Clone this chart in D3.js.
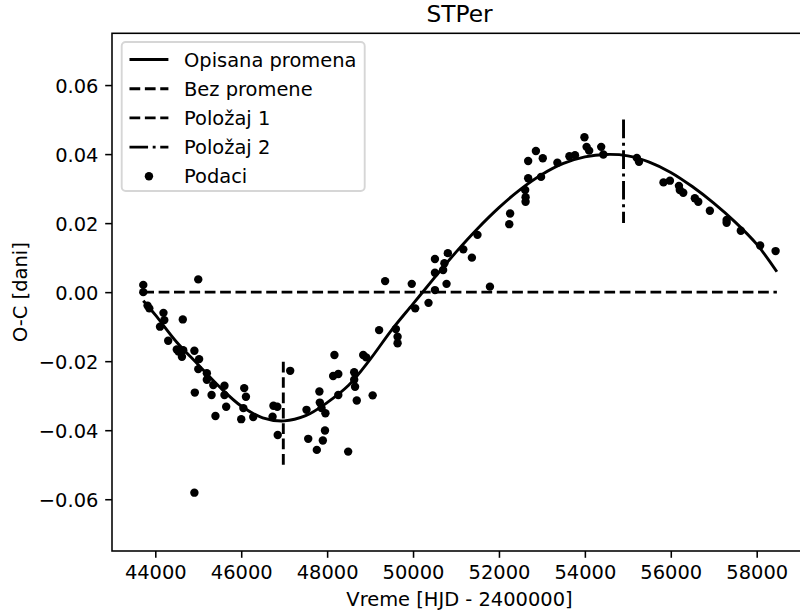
<!DOCTYPE html>
<html>
<head>
<meta charset="utf-8">
<script src="https://cdn.jsdelivr.net/npm/d3@7"></script>
<style>
    body { margin: 0; background: #fff; }
    svg { display: block; font-family: "DejaVu Sans", sans-serif; }
</style>
</head>
<body>
<svg id="chart" width="800" height="614"></svg>
<script>
'use strict';

const chartTitle = 'STPer';
const xLabel = 'Vreme [HJD - 2400000]';
const yLabel = 'O-C [dani]';

const xTicks = [44000, 46000, 48000, 50000, 52000, 54000, 56000, 58000];
const yTicks = [-0.06, -0.04, -0.02, 0.00, 0.02, 0.04, 0.06];

const legendLabels = ['Opisana promena', 'Bez promene', 'Položaj 1', 'Položaj 2', 'Podaci'];

// observed minima
const obsTimes = [
    43720, 43720, 45000, 43820, 43860, 44190, 44210, 44110, 44640, 44300,
    44500, 44540, 44620, 44650, 44910, 45020, 45000, 45200, 45200, 45350,
    45610, 45310, 44920, 45610, 46070, 46110, 45650, 46050, 46750, 46840,
    47140, 47520, 45400, 46000, 46280, 46730, 46850, 47560, 44910, 48170,
    48840, 48910, 48140, 48260, 48630, 48630, 48650, 47820, 48260, 47830,
    47870, 47960, 48690, 49060, 49640, 47950, 47900, 47760, 48490, 49210,
    49600, 49640, 50050, 50360, 49350, 49970, 50510, 50780, 50510, 50700,
    50730, 50510, 50810, 51170, 51370, 51500, 51790, 52240, 52260, 52610,
    52620, 52620, 52680, 52680, 52860, 53020, 52980, 53360, 53640, 53770,
    53990, 54040, 54100, 54380, 54430, 55210, 55260, 55830, 55980, 56190,
    56210, 56290, 56560, 56640, 56910, 57300, 57300, 57630, 58080, 58440
];
const obsOC = [
    0.0021, 0.0000, 0.0037, -0.0039, -0.0047, -0.0060, -0.0081, -0.0100, -0.0079, -0.0141,
    -0.0166, -0.0172, -0.0187, -0.0168, -0.0170, -0.0194, -0.0223, -0.0235, -0.0254, -0.0269,
    -0.0271, -0.0298, -0.0291, -0.0298, -0.0278, -0.0303, -0.0332, -0.0336, -0.0329, -0.0332,
    -0.0228, -0.0341, -0.0359, -0.0368, -0.0362, -0.0361, -0.0414, -0.0425, -0.0581, -0.0182,
    -0.0182, -0.0189, -0.0243, -0.0237, -0.0232, -0.0254, -0.0274, -0.0288, -0.0298, -0.0320,
    -0.0336, -0.0351, -0.0314, -0.0299, -0.0148, -0.0401, -0.0430, -0.0457, -0.0462, -0.0110,
    -0.0107, -0.0129, -0.0047, -0.0031, 0.0032, 0.0024, 0.0006, 0.0024, 0.0056, 0.0064,
    0.0084, 0.0096, 0.0113, 0.0124, 0.0100, 0.0166, 0.0016, 0.0197, 0.0228, 0.0296,
    0.0275, 0.0262, 0.0330, 0.0380, 0.0409, 0.0388, 0.0334, 0.0375, 0.0394, 0.0397,
    0.0449, 0.0421, 0.0410, 0.0421, 0.0399, 0.0389, 0.0378, 0.0318, 0.0323, 0.0308,
    0.0296, 0.0288, 0.0272, 0.0262, 0.0236, 0.0209, 0.0201, 0.0178, 0.0135, 0.0119
];

// fitted curve
const fitTimes = [
    43720, 44000, 44500, 45000, 45500, 46000, 46500, 47000, 47500, 48000,
    48500, 49000, 49500, 50000, 50500, 51000, 51500, 52000, 52500, 53000,
    53500, 54000, 54500, 55000, 55500, 56000, 56500, 57000, 57500, 58000,
    58470
];
const fitOC = [
    -0.0025, -0.0066, -0.0145, -0.0210, -0.0275, -0.0330, -0.0364, -0.0373, -0.0358, -0.0320,
    -0.0270, -0.0195, -0.0110, -0.0034, 0.0042, 0.0116, 0.0184, 0.0245, 0.0298, 0.0341,
    0.0373, 0.0392, 0.0399, 0.0395, 0.0377, 0.0347, 0.0306, 0.0258, 0.0203, 0.0139,
    0.0059
];

const noChangeTimes = [43720, 58470];
const noChangeOC = [0, 0];
const position1Time = 46980;
const position1Range = [-0.05, -0.02];
const position2Time = 54900;
const position2Range = [0.02, 0.05];

class OCChart {
    constructor(selector) {
        this.svg = d3.select(selector);
        this.setUpEnvironment();
        this.drawAxes();
        this.drawSeries();
        this.drawLegend();
    }

    setUpEnvironment() {
        this.font = 19.44;
        this.lw = 2.9;
        this.box = { left: 112, right: 807, top: 33.3, bottom: 551 };

        this.x = d3.scaleLinear()
            .domain([42992, 59171])
            .range([this.box.left, this.box.right]);
        this.y = d3.scaleLinear()
            .domain([-0.075, 0.075])
            .range([this.box.bottom, this.box.top]);

        this.dashed = `${3.7 * this.lw},${1.6 * this.lw}`;
        this.dashDot = `${6.4 * this.lw},${1.6 * this.lw},${1 * this.lw},${1.6 * this.lw}`;
    }

    drawAxes() {
        const fmt = d => d3.format('.2f')(d).replace('-', '\u2212');

        this.svg.append('g')
            .attr('transform', `translate(0,${this.box.bottom})`)
            .call(d3.axisBottom(this.x).tickValues(xTicks).tickFormat(d3.format('d'))
                .tickSize(6.8).tickPadding(6.8).tickSizeOuter(0))
            .call(g => {
                g.select('.domain').remove();
                g.selectAll('line').attr('stroke-width', 1.56);
                g.selectAll('text').attr('font-size', this.font).attr('fill', '#000')
                    .attr('dy', null).attr('y', 6.8 + 6.8 + 14.8)
                    .attr('font-family', '"DejaVu Sans", sans-serif');
            });

        this.svg.append('g')
            .attr('transform', `translate(${this.box.left},0)`)
            .call(d3.axisLeft(this.y).tickValues(yTicks).tickFormat(fmt)
                .tickSize(6.8).tickPadding(6.8).tickSizeOuter(0))
            .call(g => {
                g.select('.domain').remove();
                g.selectAll('line').attr('stroke-width', 1.56);
                g.selectAll('text').attr('font-size', this.font).attr('fill', '#000')
                    .attr('dy', '0.37em')
                    .attr('font-family', '"DejaVu Sans", sans-serif');
            });

        this.svg.append('rect')
            .attr('x', this.box.left)
            .attr('y', this.box.top)
            .attr('width', this.box.right - this.box.left)
            .attr('height', this.box.bottom - this.box.top)
            .attr('fill', 'none')
            .attr('stroke', '#000')
            .attr('stroke-width', 1.56);

        const midX = (this.box.left + this.box.right) / 2;

        this.svg.append('text')
            .attr('x', midX)
            .attr('y', 21.6)
            .attr('text-anchor', 'middle')
            .attr('font-size', 23.3)
            .text(chartTitle);

        this.svg.append('text')
            .attr('x', midX)
            .attr('y', 606)
            .attr('text-anchor', 'middle')
            .attr('font-size', this.font)
            .text(xLabel);

        this.svg.append('text')
            .attr('transform', `translate(27,${(this.box.top + this.box.bottom) / 2}) rotate(-90)`)
            .attr('text-anchor', 'middle')
            .attr('font-size', this.font)
            .text(yLabel);
    }

    drawSeries() {
        const line = d3.line()
            .x(d => this.x(d[0]))
            .y(d => this.y(d[1]));

        const plot = this.svg.append('g');

        plot.append('path')
            .datum(d3.zip(fitTimes, fitOC))
            .attr('d', line.curve(d3.curveCatmullRom.alpha(0.5)))
            .attr('fill', 'none')
            .attr('stroke', '#000')
            .attr('stroke-width', this.lw);

        plot.append('path')
            .datum(d3.zip(noChangeTimes, noChangeOC))
            .attr('d', line.curve(d3.curveLinear))
            .attr('fill', 'none')
            .attr('stroke', '#000')
            .attr('stroke-width', this.lw)
            .attr('stroke-dasharray', this.dashed);

        plot.append('line')
            .attr('x1', this.x(position1Time)).attr('x2', this.x(position1Time))
            .attr('y1', this.y(position1Range[0])).attr('y2', this.y(position1Range[1]))
            .attr('stroke', '#000')
            .attr('stroke-width', this.lw)
            .attr('stroke-dasharray', this.dashed);

        plot.append('line')
            .attr('x1', this.x(position2Time)).attr('x2', this.x(position2Time))
            .attr('y1', this.y(position2Range[1])).attr('y2', this.y(position2Range[0]))
            .attr('stroke', '#000')
            .attr('stroke-width', this.lw)
            .attr('stroke-dasharray', this.dashDot);

        plot.selectAll('.point')
            .data(d3.zip(obsTimes, obsOC))
            .enter()
            .append('circle')
            .attr('class', 'point')
            .attr('cx', d => this.x(d[0]))
            .attr('cy', d => this.y(d[1]))
            .attr('r', 4.2)
            .attr('fill', '#000');
    }

    drawLegend() {
        const left = 121.7, top = 42, width = 243, height = 149;
        const rowStart = 59.5, rowStep = 29.2;
        const handleX = [129.5, 168.4];

        const legend = this.svg.append('g');

        legend.append('rect')
            .attr('x', left).attr('y', top)
            .attr('width', width).attr('height', height)
            .attr('rx', 4)
            .attr('fill', 'rgba(255,255,255,0.8)')
            .attr('stroke', '#d6d6d6')
            .attr('stroke-width', 1.9);

        const styles = [null, this.dashed, this.dashed, this.dashDot, 'marker'];

        legendLabels.forEach((label, i) => {
            const cy = rowStart + i * rowStep;
            if (styles[i] === 'marker') {
                legend.append('circle')
                    .attr('cx', (handleX[0] + handleX[1]) / 2)
                    .attr('cy', cy)
                    .attr('r', 4.2)
                    .attr('fill', '#000');
            } else {
                legend.append('line')
                    .attr('x1', handleX[0]).attr('x2', handleX[1])
                    .attr('y1', cy).attr('y2', cy)
                    .attr('stroke', '#000')
                    .attr('stroke-width', this.lw)
                    .attr('stroke-dasharray', styles[i]);
            }
            legend.append('text')
                .attr('x', 184)
                .attr('y', cy)
                .attr('dy', '0.37em')
                .attr('font-size', this.font)
                .text(label);
        });
    }
}

new OCChart('#chart');
</script>
</body>
</html>
